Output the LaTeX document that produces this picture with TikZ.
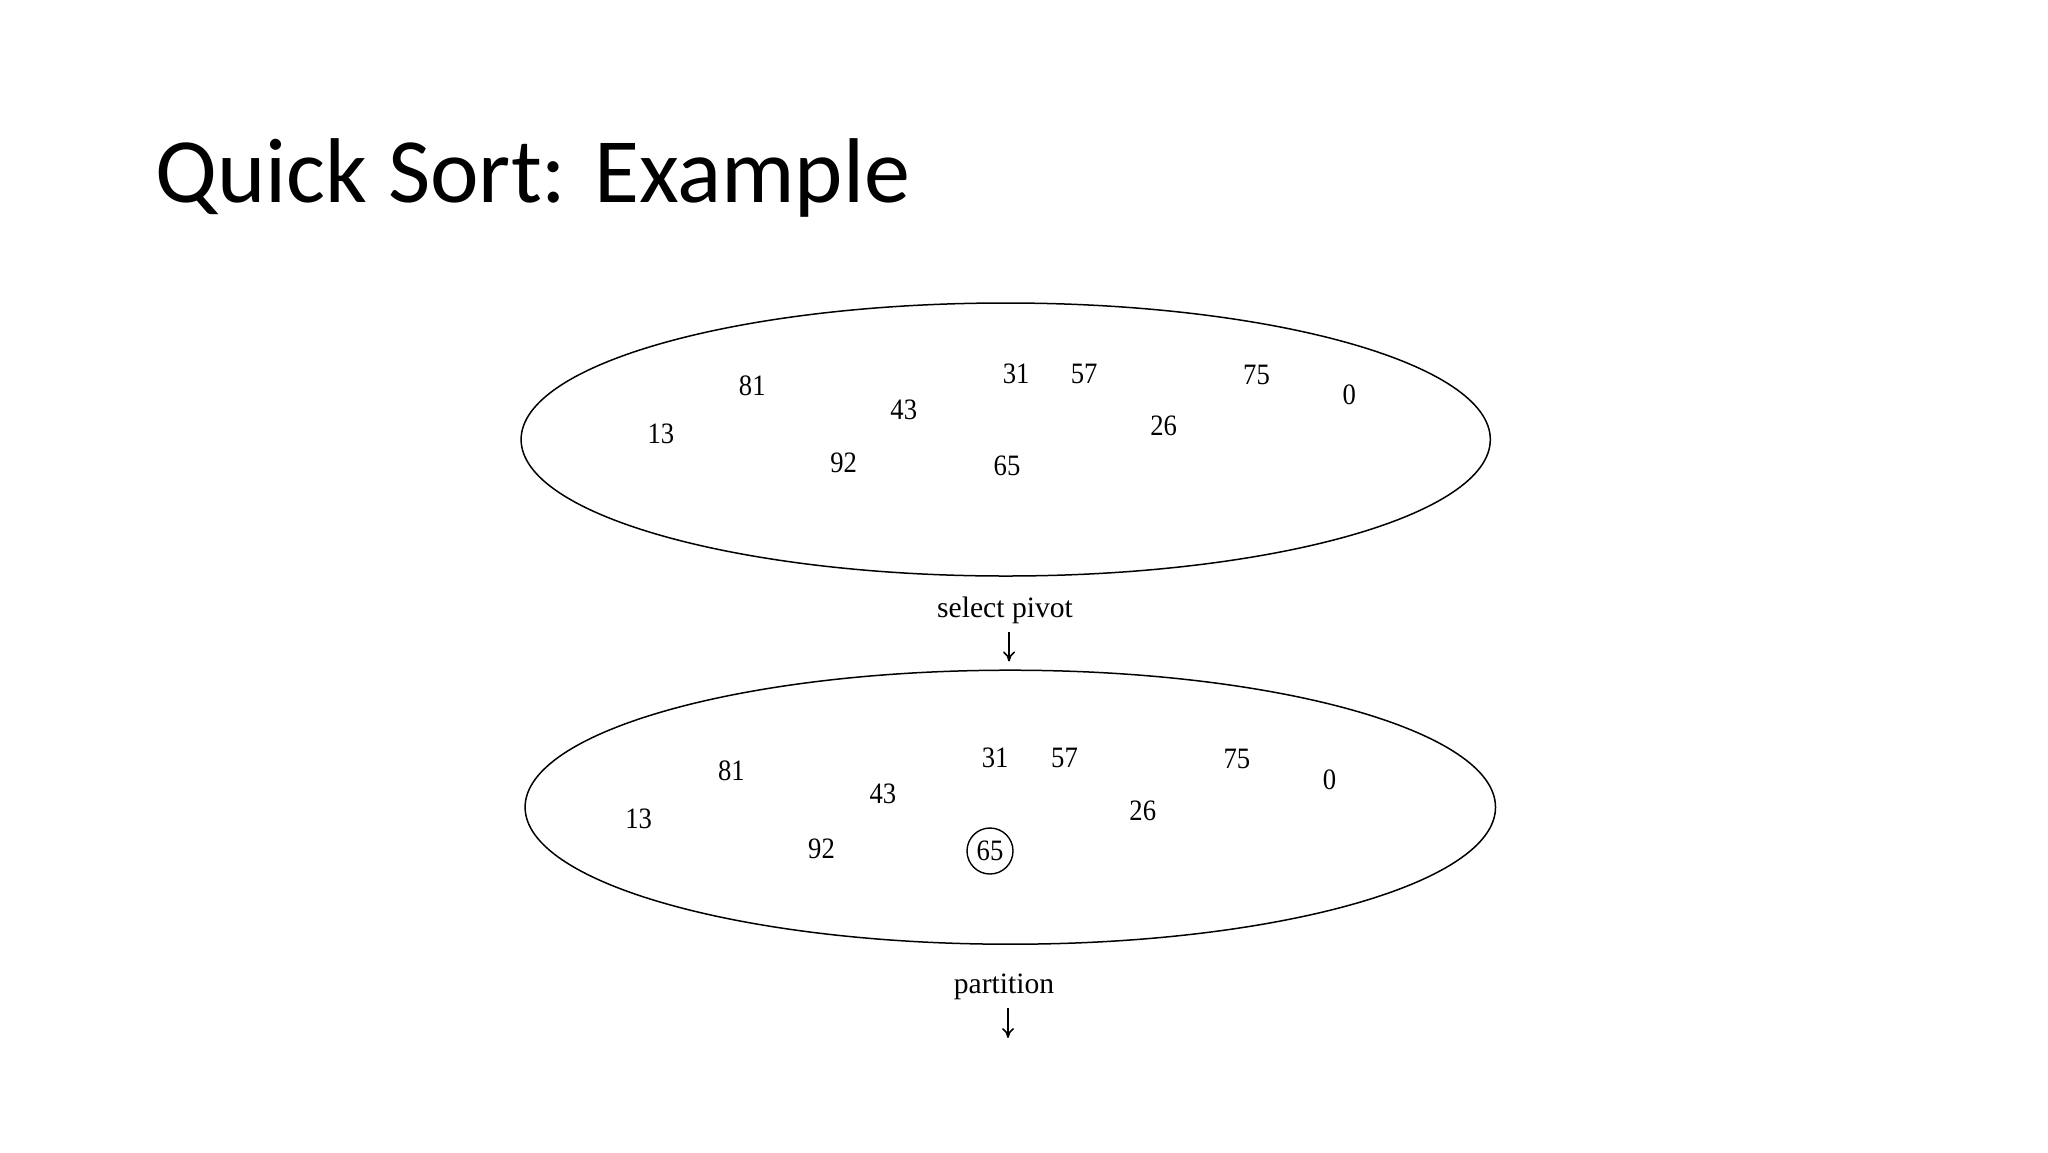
\documentclass[tikz,border=0pt]{standalone}
\usepackage{fontspec}
\setmainfont{Liberation Serif}
\newfontfamily\titlefont{Carlito}
\usetikzlibrary{shapes.geometric,arrows.meta}
\tikzset{
  num/.style={inner sep=0pt, font=\fontsize{14.8}{16}\selectfont},
  lab/.style={inner sep=0pt, font=\fontsize{14.8}{16}\selectfont},
  setell/.style={draw, line width=0.75pt, ellipse, inner sep=0pt},
  flow/.style={line width=0.8pt, -{To[length=5pt,width=6pt]}},
}
\newcommand{\nm}[1]{\scalebox{0.9}[1]{#1}}
\begin{document}
\begin{tikzpicture}[x=0.5pt,y=-0.5pt]
\useasboundingbox (0,0) rectangle (2048,1152);
\node[anchor=base west, inner sep=0pt, font=\titlefont\fontsize{46}{50}\selectfont] (title) at (155,202) {Quick Sort: Example};

% first set
\node[setell, minimum width=484.6pt, minimum height=136.5pt] (e1) at (1005.7,439.5) {};
\node[num] (a81) at (752.3,385.3) {\nm{81}};
\node[num] (a13) at (660.9,433.6) {\nm{13}};
\node[num] (a43) at (903.8,410.1) {\nm{43}};
\node[num] (a92) at (843.7,462.4) {\nm{92}};
\node[num] (a31) at (1016.1,373.5) {\nm{31}};
\node[num] (a57) at (1084.1,373.5) {\nm{57}};
\node[num] (a65) at (1007.0,466.3) {\nm{65}};
\node[num] (a26) at (1163.7,425.8) {\nm{26}};
\node[num] (a75) at (1256.5,374.9) {\nm{75}};
\node[num] (a0)  at (1349.2,394.4) {\nm{0}};

\node[lab] (sel) at (1005,610) {select pivot};

% second set
\node[setell, minimum width=485.2pt, minimum height=137pt] (e2) at (1010.3,807.2) {};
\node[num] (b81) at (731.4,770.6) {\nm{81}};
\node[num] (b13) at (638.7,818.9) {\nm{13}};
\node[num] (b43) at (882.9,794.1) {\nm{43}};
\node[num] (b92) at (821.5,849.0) {\nm{92}};
\node[num] (b31) at (995.2,757.5) {\nm{31}};
\node[num] (b57) at (1064.5,757.5) {\nm{57}};
\node[num, draw, circle, line width=0.7pt, minimum size=23pt] (b65) at (990,851) {\nm{65}};
\node[num] (b26) at (1142.8,811.1) {\nm{26}};
\node[num] (b75) at (1236.9,758.8) {\nm{75}};
\node[num] (b0)  at (1329.6,779.7) {\nm{0}};

\node[lab] (part) at (1004,987) {partition};
\coordinate (pend) at (1008,1038);

\path (sel.south -| 1009,0) ++(0,8) coordinate (s0);
\draw[flow, shorten >=4pt] (s0) -- (e2.north -| s0);
\path (part.south -| pend) ++(0,8) coordinate (p0);
\draw[flow] (p0) -- (pend);
\end{tikzpicture}
\end{document}
